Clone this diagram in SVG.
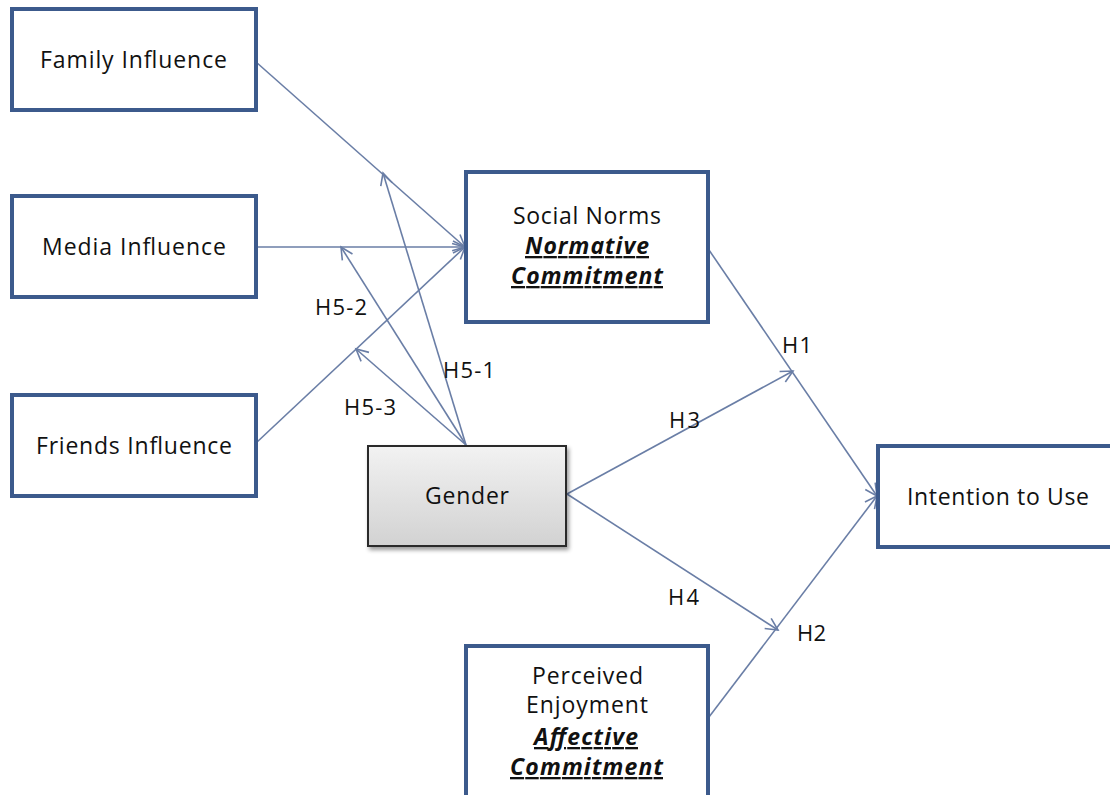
<svg xmlns="http://www.w3.org/2000/svg" width="1110" height="795" viewBox="0 0 1110 795">
<style>
.box{fill:#fff;stroke:#3c5a8c;stroke-width:4}
.t{font-family:"Open Sans","Liberation Sans",sans-serif;font-size:23px;fill:#111}
.h{font-size:22px}
.bi{font-weight:bold;font-style:italic;text-decoration:underline;font-size:23px}
.c{fill:none;stroke:#6a7ea6;stroke-width:1.6}
</style>
<defs>
<marker id="ar" markerUnits="userSpaceOnUse" markerWidth="16" markerHeight="16" refX="13" refY="7" orient="auto">
<path d="M1,1 L13,7 L1,13" fill="none" stroke="#6a7ea6" stroke-width="1.6"/>
</marker>
<linearGradient id="gg" x1="0" y1="0" x2="0" y2="1">
<stop offset="0" stop-color="#f2f2f2"/>
<stop offset="1" stop-color="#d2d2d2"/>
</linearGradient>
<filter id="sh" x="-10%" y="-10%" width="130%" height="130%">
<feGaussianBlur in="SourceAlpha" stdDeviation="2"/>
<feOffset dx="2" dy="3"/>
<feComponentTransfer><feFuncA type="linear" slope="0.4"/></feComponentTransfer>
<feMerge><feMergeNode/><feMergeNode in="SourceGraphic"/></feMerge>
</filter>
</defs>
<rect width="1110" height="795" fill="#fff"/>
<g id="connectors">
<line class="c" x1="256" y1="62" x2="465" y2="247" marker-end="url(#ar)"/>
<line class="c" x1="256" y1="247" x2="465" y2="247" marker-end="url(#ar)"/>
<line class="c" x1="256" y1="443" x2="465" y2="247" marker-end="url(#ar)"/>
<line class="c" x1="466" y1="445" x2="383" y2="173" marker-end="url(#ar)"/>
<line class="c" x1="466" y1="445" x2="341" y2="247" marker-end="url(#ar)"/>
<line class="c" x1="466" y1="445" x2="356" y2="349" marker-end="url(#ar)"/>
<line class="c" x1="709" y1="250" x2="877" y2="496" marker-end="url(#ar)"/>
<line class="c" x1="709" y1="717" x2="877" y2="496" marker-end="url(#ar)"/>
<line class="c" x1="567" y1="494" x2="793" y2="371" marker-end="url(#ar)"/>
<line class="c" x1="567" y1="494" x2="778" y2="630" marker-end="url(#ar)"/>
<text class="t h" x="315" y="315" textLength="52">H5-2</text>
<text class="t h" x="443" y="378" textLength="52">H5-1</text>
<text class="t h" x="344" y="415" textLength="52">H5-3</text>
<text class="t h" x="782" y="353" textLength="30">H1</text>
<text class="t h" x="669" y="428" textLength="31">H3</text>
<text class="t h" x="668" y="605" textLength="31">H4</text>
<text class="t h" x="797" y="641" textLength="29">H2</text>
</g>
<g id="family">
<rect class="box" x="12" y="9" width="244" height="101"/>
<text class="t" x="40" y="68" textLength="187">Family Influence</text>
</g>
<g id="media">
<rect class="box" x="12" y="196" width="244" height="101"/>
<text class="t" x="42" y="255" textLength="184">Media Influence</text>
</g>
<g id="friends">
<rect class="box" x="12" y="395" width="244" height="101"/>
<text class="t" x="36" y="454" textLength="196">Friends Influence</text>
</g>
<g id="social">
<rect class="box" x="466" y="172" width="242" height="150"/>
<text class="t" x="513" y="224" textLength="148">Social Norms</text>
<text class="t bi" x="525" y="254" textLength="124">Normative</text>
<text class="t bi" x="511" y="284" textLength="152">Commitment</text>
</g>
<g id="gender">
<rect x="368" y="446" width="198" height="100" fill="url(#gg)" stroke="#2b2b2b" stroke-width="2" filter="url(#sh)"/>
<text class="t" x="425" y="504" textLength="84">Gender</text>
</g>
<g id="intention">
<rect class="box" x="878" y="446" width="240" height="101"/>
<text class="t" x="907" y="505" textLength="182">Intention to Use</text>
</g>
<g id="enjoyment">
<rect class="box" x="466" y="646" width="242" height="160"/>
<text class="t" x="532" y="684" textLength="111">Perceived</text>
<text class="t" x="526" y="713" textLength="122">Enjoyment</text>
<text class="t bi" x="534" y="745" textLength="104">Affective</text>
<text class="t bi" x="510" y="775" textLength="153">Commitment</text>
</g>
</svg>
